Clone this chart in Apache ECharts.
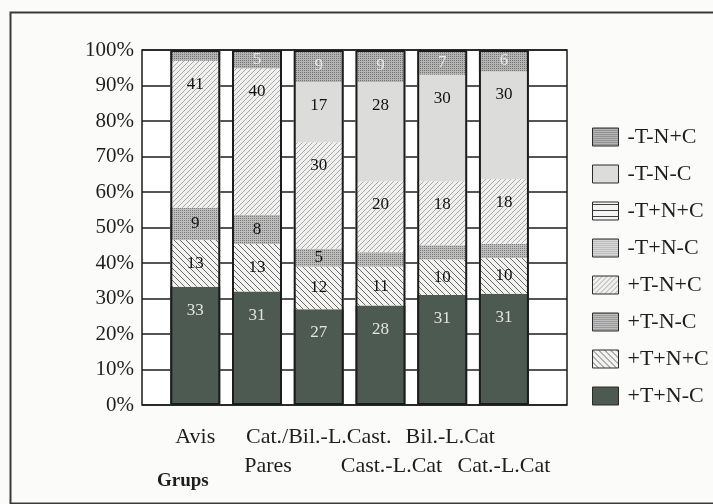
<!DOCTYPE html>
<html>
<head>
<meta charset="utf-8">
<script src="https://cdn.jsdelivr.net/npm/echarts@6/dist/echarts.min.js"></script>
<style>
  html, body { margin: 0; padding: 0; background: #fbfbfa; }
  #chart { width: 713px; height: 504px; }
</style>
</head>
<body>
<div id="chart"></div>
<script>
// Groups on the x axis
const categories = ['Avis', 'Pares', 'Cat./Bil.-L.Cast.', 'Cast.-L.Cat', 'Bil.-L.Cat', 'Cat.-L.Cat'];

// Series values per group (stacked bottom to top)
const pTpNmC = [33, 31, 27, 28, 31, 31];   // +T+N-C
const pTpNpC = [13, 13, 12, 11, 10, 10];   // +T+N+C
const pTmNmC = [9, 8, 5, 4, 4, 4];         // +T-N-C
const pTmNpC = [41, 40, 30, 20, 18, 18];   // +T-N+C
const mTpNmC = [0, 0, 0, 0, 0, 0];         // -T+N-C
const mTpNpC = [0, 0, 0, 0, 0, 0];         // -T+N+C
const mTmNmC = [0, 0, 17, 28, 30, 30];     // -T-N-C
const mTmNpC = [3, 5, 9, 9, 7, 6];         // -T-N+C

const yTicks = [0, 10, 20, 30, 40, 50, 60, 70, 80, 90, 100];

const seriesDefs = [
  { name: '+T+N-C', values: pTpNmC, fill: 'solid',   labelColor: '#e4e4e0' },
  { name: '+T+N+C', values: pTpNpC, fill: 'back',    labelColor: '#111' },
  { name: '+T-N-C', values: pTmNmC, fill: 'dotDark', labelColor: '#111' },
  { name: '+T-N+C', values: pTmNpC, fill: 'fwd',     labelColor: '#111' },
  { name: '-T+N-C', values: mTpNmC, fill: 'dotLight',labelColor: '#111' },
  { name: '-T+N+C', values: mTpNpC, fill: 'horiz',   labelColor: '#111' },
  { name: '-T-N-C', values: mTmNmC, fill: 'light',   labelColor: '#111' },
  { name: '-T-N+C', values: mTmNpC, fill: 'dotMid',  labelColor: '#e8e8e8' }
];

// Fill textures for the segments
function tile(size, draw) {
  const c = document.createElement('canvas');
  c.width = size; c.height = size;
  const ctx = c.getContext('2d');
  draw(ctx, size);
  return { image: c, repeat: 'repeat' };
}
function dots(base, dot) {
  return tile(4, (ctx) => {
    ctx.fillStyle = base; ctx.fillRect(0, 0, 4, 4);
    ctx.fillStyle = dot;
    ctx.fillRect(0, 0, 1, 1); ctx.fillRect(2, 2, 1, 1);
    ctx.fillRect(2, 0, 1, 1); ctx.fillRect(0, 2, 1, 1);
  });
}
function hatch(size, bg, line, dir) {
  return tile(size, (ctx, s) => {
    ctx.fillStyle = bg; ctx.fillRect(0, 0, s, s);
    ctx.strokeStyle = line; ctx.lineWidth = 1;
    ctx.beginPath();
    if (dir === 'fwd') {
      ctx.moveTo(-1, s + 1); ctx.lineTo(s + 1, -1);
      ctx.moveTo(-1, 1); ctx.lineTo(1, -1);
      ctx.moveTo(s - 1, s + 1); ctx.lineTo(s + 1, s - 1);
    } else {
      ctx.moveTo(-1, -1); ctx.lineTo(s + 1, s + 1);
      ctx.moveTo(s - 1, -1); ctx.lineTo(s + 1, 1);
      ctx.moveTo(-1, s - 1); ctx.lineTo(1, s + 1);
    }
    ctx.stroke();
  });
}
const fills = {
  solid: '#4c5a52',
  back: hatch(6, '#f2f2f0', '#6a6a6a', 'back'),
  dotDark: dots('#bdbdbd', '#7c7c7c'),
  fwd: hatch(5, '#f0f0ee', '#a9a9a9', 'fwd'),
  dotLight: dots('#d6d6d6', '#a8a8a8'),
  horiz: tile(6, (ctx) => {
    ctx.fillStyle = '#f4f4f4'; ctx.fillRect(0, 0, 6, 6);
    ctx.fillStyle = '#333'; ctx.fillRect(0, 2, 6, 1);
  }),
  light: '#dcdcda',
  dotMid: dots('#b4b4b4', '#747474')
};

// Plot geometry
const PLOT_TOP = 50, PLOT_H = 355, LABEL_SIZE = 17;

// Each group is drawn as a share of its own total
const totals = categories.map((_, i) =>
  seriesDefs.reduce((s, d) => s + d.values[i], 0));
const pct = (arr) => arr.map((v, i) => v / totals[i] * 100);

const barSeries = seriesDefs.map((d) => ({
  name: d.name,
  type: 'bar',
  stack: 'all',
  xAxisIndex: 1,
  yAxisIndex: 1,
  barWidth: 50,
  data: pct(d.values).map((p) => {
    // label sits near the top of its segment, centred when the segment is short
    const segPx = p / 100 * PLOT_H;
    const dist = Math.max(0, Math.min(15, segPx / 2 - LABEL_SIZE / 2));
    return { value: p, label: { distance: dist } };
  }),
  itemStyle: { color: fills[d.fill] },
  label: {
    show: true,
    position: 'insideTop',
    fontFamily: 'Liberation Serif, serif',
    fontSize: LABEL_SIZE,
    color: d.labelColor,
    formatter: (p) => (d.values[p.dataIndex] >= 5 ? String(d.values[p.dataIndex]) : '')
  },
  emphasis: { disabled: true }
}));

// Outline around each whole column
const outlineSeries = {
  name: 'outline',
  type: 'bar',
  xAxisIndex: 1,
  yAxisIndex: 1,
  barWidth: 50,
  barGap: '-100%',
  z: 5,
  silent: true,
  data: categories.map((_, i) => seriesDefs.reduce((s, d) => s + pct(d.values)[i], 0)),
  itemStyle: { color: 'rgba(0,0,0,0)', borderColor: '#1c1c1c', borderWidth: 2 },
  label: { show: false }
};

const serif = 'Liberation Serif, serif';
// labels nudged right of their column centre
const nudge = { 'Pares': 22, 'Cast.-L.Cat': 22, 'Bil.-L.Cat': 16 };

const chart = echarts.init(document.getElementById('chart'), null, { renderer: 'canvas' });
chart.setOption({
  animation: false,
  backgroundColor: '#fbfbfa',
  grid: [
    { left: 142, top: PLOT_TOP, width: 425, height: PLOT_H, show: true,
      backgroundColor: '#ffffff', borderColor: '#1c1c1c', borderWidth: 1.5 },
    { left: 164.4, top: PLOT_TOP, width: 370.4, height: PLOT_H, show: false }
  ],
  xAxis: [
    { gridIndex: 0, type: 'category', data: [''], show: false },
    {
      gridIndex: 1, type: 'category', data: categories,
      axisLine: { show: false }, axisTick: { show: false },
      axisLabel: {
        interval: 0, margin: 18, lineHeight: 29,
        fontFamily: serif, fontSize: 22, color: '#1e1e1e',
        formatter: (v, i) => {
          const key = nudge[v] ? 'n' + nudge[v] : 'a';
          return (i % 2 ? '\n' : '') + '{' + key + '|' + v + '}';
        },
        rich: {
          a:   { fontFamily: serif, fontSize: 22, color: '#1e1e1e', lineHeight: 29 },
          n22: { fontFamily: serif, fontSize: 22, color: '#1e1e1e', lineHeight: 29, padding: [0, 0, 0, 22] },
          n16: { fontFamily: serif, fontSize: 22, color: '#1e1e1e', lineHeight: 29, padding: [0, 0, 0, 16] }
        }
      }
    }
  ],
  yAxis: [
    {
      gridIndex: 0, type: 'value', min: 0, max: 100, interval: 10,
      axisLine: { show: false }, axisTick: { show: false },
      axisLabel: {
        margin: 8, fontFamily: serif, fontSize: 21, color: '#1e1e1e',
        formatter: (v) => yTicks.includes(v) ? v + '%' : ''
      },
      splitLine: { show: true, lineStyle: { color: '#1c1c1c', width: 1.5 } }
    },
    { gridIndex: 1, type: 'value', min: 0, max: 100, show: false }
  ],
  legend: {
    orient: 'vertical',
    left: 587,
    top: 121,
    itemWidth: 26,
    itemHeight: 18,
    itemGap: 15,
    icon: 'rect',
    selectedMode: false,
    data: ['-T-N+C', '-T-N-C', '-T+N+C', '-T+N-C', '+T-N+C', '+T-N-C', '+T+N+C', '+T+N-C'],
    itemStyle: { borderColor: '#2a2a2a', borderWidth: 1 },
    textStyle: { fontFamily: serif, fontSize: 22, color: '#1e1e1e', padding: [0, 0, 0, 4] }
  },
  graphic: [
    { type: 'rect', left: 8, top: 10, silent: true,
      shape: { width: 720, height: 491 },
      style: { fill: 'none', stroke: '#3a3a3a', lineWidth: 2 } },
    { type: 'text', left: 157, top: 472, silent: true,
      style: { text: 'Grups', font: 'bold 19px Liberation Serif, serif', fill: '#1e1e1e' } }
  ],
  series: barSeries.concat([outlineSeries])
});
</script>
</body>
</html>
